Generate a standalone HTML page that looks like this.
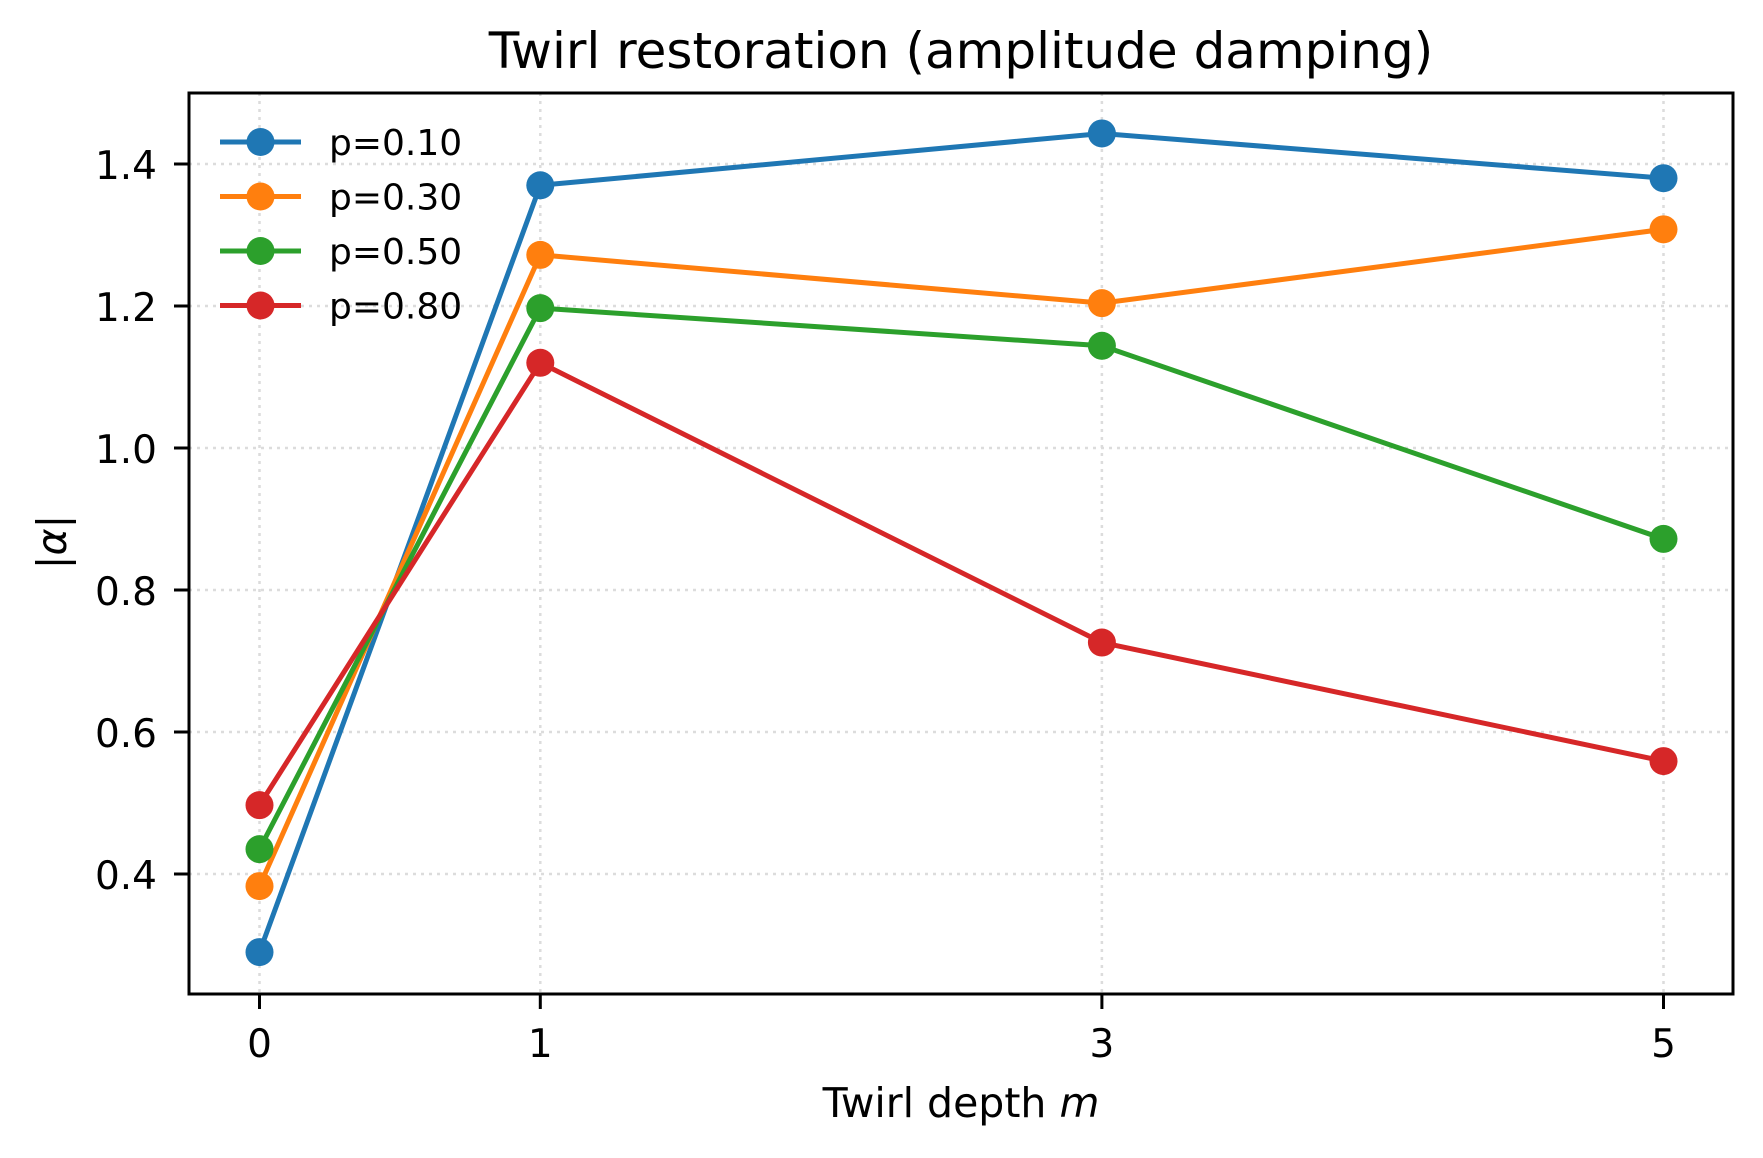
<!DOCTYPE html>
<html><head><meta charset="utf-8"><style>body{margin:0;background:#fff}svg{display:block;font-family:"DejaVu Sans","Liberation Sans",sans-serif}</style></head>
<body>
<svg id="chart" width="1763" height="1158" viewBox="0 0 1763 1158" xmlns="http://www.w3.org/2000/svg">
<rect width="1763" height="1158" fill="#fff"/>
<g id="grid"></g>
<g id="series"></g>
<rect x="189" y="93" width="1544" height="901" fill="none" stroke="#000" stroke-width="3"/>
<g id="ticks"></g>
<text x="961" y="68" text-anchor="middle" font-size="50">Twirl restoration (amplitude damping)</text>
<text x="961" y="1117" text-anchor="middle" font-size="41">Twirl depth <tspan font-style="italic">m</tspan></text>
<text transform="translate(66,542) rotate(-90)" text-anchor="middle" font-size="41">|<tspan font-style="italic">α</tspan>|</text>
<g id="legend"></g>
</svg>
<script>
const categories = [0, 1, 3, 5];
const xTickLabels = ["0", "1", "3", "5"];
const yTicks = [0.4, 0.6, 0.8, 1.0, 1.2, 1.4];
const yTickLabels = ["0.4", "0.6", "0.8", "1.0", "1.2", "1.4"];
const seriesNames = ["p=0.10", "p=0.30", "p=0.50", "p=0.80"];
const seriesColors = ["#1f77b4", "#ff7f0e", "#2ca02c", "#d62728"];
const s010 = [0.29, 1.37, 1.443, 1.38];
const s030 = [0.383, 1.272, 1.204, 1.308];
const s050 = [0.435, 1.197, 1.144, 0.872];
const s080 = [0.497, 1.12, 0.726, 0.559];
const allSeries = [s010, s030, s050, s080];

const NS = "http://www.w3.org/2000/svg";
const L = 189, R = 1733, T = 93, B = 994;
function xs(v) { return 259.5 + v * 280.8; }
function ys(v) { return 874 - (v - 0.4) / 0.2 * 142; }
function mk(tag, attrs, parent) { const e = document.createElementNS(NS, tag); for (const k in attrs) e.setAttribute(k, attrs[k]); parent.appendChild(e); return e; }
const grid = document.getElementById('grid'), ticks = document.getElementById('ticks'), ser = document.getElementById('series'), leg = document.getElementById('legend');

categories.forEach((c, i) => {
  const x = xs(c);
  const g = mk('line', {x1: x, x2: x, y1: T, y2: B, stroke: '#dcdcdc', 'stroke-width': 2.5, 'stroke-dasharray': '3,5'}, grid);
  
  
  const t = mk('line', {x1: x, x2: x, y1: B, y2: B + 15, stroke: '#000', 'stroke-width': 3}, ticks);
  
  
  const lb = mk('text', {x: x, y: B + 63, 'text-anchor': 'middle', 'font-size': 39}, ticks);
  lb.textContent = xTickLabels[i];
  
  
});
yTicks.forEach((v, i) => {
  const y = ys(v);
  const g = mk('line', {x1: L, x2: R, y1: y, y2: y, stroke: '#dcdcdc', 'stroke-width': 2.5, 'stroke-dasharray': '3,5'}, grid);
  
  
  const t = mk('line', {x1: L - 15, x2: L, y1: y, y2: y, stroke: '#000', 'stroke-width': 3}, ticks);
  
  
  const lb = mk('text', {x: L - 32, y: y + 15, 'text-anchor': 'end', 'font-size': 39}, ticks);
  lb.textContent = yTickLabels[i];
  
  
});
allSeries.forEach((s, si) => {
  const pts = s.map((v, i) => xs(categories[i]) + ',' + ys(v)).join(' ');
  const pl = mk('polyline', {points: pts, fill: 'none', stroke: seriesColors[si], 'stroke-width': 5, 'stroke-linejoin': 'round'}, ser);
  
  
  s.forEach((v, i) => {
    const c = mk('circle', {cx: xs(categories[i]), cy: ys(v), r: 14, fill: seriesColors[si]}, ser);
    
    
  });
  const ly = 142 + si * 54.5;
  const ll = mk('line', {x1: 220, x2: 301, y1: ly, y2: ly, stroke: seriesColors[si], 'stroke-width': 5}, leg);
  
  
  const lc = mk('circle', {cx: 260.5, cy: ly, r: 14, fill: seriesColors[si]}, leg);
  
  
  const lt = mk('text', {x: 329, y: ly + 13, 'font-size': 36}, leg);
  lt.textContent = seriesNames[si];
  
  
});
</script>
</body></html>
